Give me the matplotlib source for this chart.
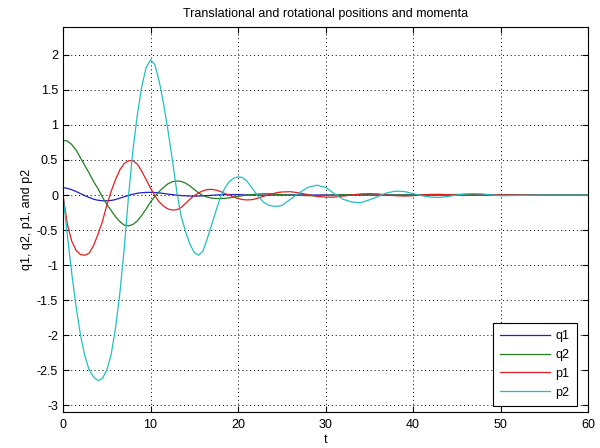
import matplotlib
matplotlib.use("Agg")

import matplotlib.pyplot as plt
import numpy as np

# time samples (0.5 steps to 25, then 1 steps, then tail)
t = [0.0, 0.5, 1.0, 1.5, 2.0, 2.5, 3.0, 3.5, 4.0, 4.5,
     5.0, 5.5, 6.0, 6.5, 7.0, 7.5, 8.0, 8.5, 9.0, 9.5,
     10.0, 10.5, 11.0, 11.5, 12.0, 12.5, 13.0, 13.5, 14.0, 14.5,
     15.0, 15.5, 16.0, 16.5, 17.0, 17.5, 18.0, 18.5, 19.0, 19.5,
     20.0, 20.5, 21.0, 21.5, 22.0, 22.5, 23.0, 23.5, 24.0, 24.5,
     25.0, 26, 27, 28, 29, 30, 31, 32, 33, 34,
     35, 36, 37, 38, 39, 40, 41, 42, 43, 44,
     45, 46, 47, 48, 49, 50, 55, 60]

q1 = [0.105, 0.095, 0.075, 0.05, 0.02, -0.01, -0.035, -0.06, -0.075, -0.082,
      -0.083, -0.078, -0.065, -0.045, -0.025, -0.005, 0.012, 0.025, 0.033, 0.037,
      0.038, 0.036, 0.03, 0.022, 0.013, 0.005, -0.002, -0.008, -0.012, -0.015,
      -0.016, -0.015, -0.012, -0.008, -0.004, 0.0, 0.003, 0.005, 0.006, 0.006,
      0.005, 0.003, 0.001, 0.0, -0.001, -0.002, -0.002, -0.002, -0.001, 0.0,
      0.0, 0.001, 0.001, 0.0, 0.0, 0.0, 0.0, 0.0, 0.0, 0.0,
      0.0, 0.0, 0.0, 0.0, 0.0, 0.0, 0.0, 0.0, 0.0, 0.0,
      0.0, 0.0, 0.0, 0.0, 0.0, 0.0, 0.0, 0.0]

q2 = [0.78, 0.77, 0.72, 0.64, 0.53, 0.42, 0.31, 0.19, 0.09, -0.03,
      -0.13, -0.22, -0.31, -0.38, -0.43, -0.44, -0.42, -0.37, -0.29, -0.2,
      -0.1, -0.02, 0.05, 0.11, 0.16, 0.19, 0.2, 0.195, 0.17, 0.13,
      0.08, 0.03, -0.01, -0.03, -0.045, -0.05, -0.05, -0.048, -0.04, -0.03,
      -0.02, -0.01, 0.0, 0.005, 0.01, 0.015, 0.018, 0.018, 0.015, 0.01,
      0.005, 0.0, -0.005, -0.01, -0.01, -0.005, 0.0, 0.003, 0.004, 0.003,
      0.0, -0.002, -0.002, 0.0, 0.0, 0.0, 0.0, 0.0, 0.0, 0.004,
      0.008, 0.008, 0.004, 0.0, 0.0, 0.0, 0.0, 0.0]

p1 = [0.0, -0.42, -0.66, -0.79, -0.85, -0.86, -0.83, -0.72, -0.56, -0.38,
      -0.15, 0.05, 0.22, 0.36, 0.45, 0.49, 0.49, 0.44, 0.34, 0.22,
      0.1, -0.01, -0.1, -0.16, -0.2, -0.215, -0.21, -0.18, -0.12, -0.06,
      -0.01, 0.03, 0.06, 0.078, 0.08, 0.07, 0.05, 0.02, 0.0, -0.03,
      -0.05, -0.065, -0.07, -0.068, -0.055, -0.035, -0.015, 0.005, 0.02, 0.035,
      0.043, 0.047, 0.03, 0.005, -0.02, -0.03, -0.03, -0.015, 0.0, 0.015,
      0.02, 0.015, 0.0, -0.01, -0.015, -0.01, 0.0, 0.008, 0.01, 0.005,
      0.0, -0.004, -0.004, 0.0, 0.0, 0.0, 0.0, 0.0]

p2 = [0.0, -0.58, -1.12, -1.6, -2.0, -2.3, -2.5, -2.6, -2.65, -2.62,
      -2.5, -2.28, -1.9, -1.4, -0.76, 0.0, 0.65, 1.15, 1.55, 1.82,
      1.93, 1.86, 1.62, 1.3, 0.92, 0.5, 0.05, -0.3, -0.52, -0.7,
      -0.82, -0.86, -0.8, -0.62, -0.42, -0.22, -0.03, 0.1, 0.19, 0.24,
      0.26, 0.25, 0.2, 0.12, 0.03, -0.05, -0.11, -0.145, -0.16, -0.16,
      -0.15, -0.06, 0.03, 0.11, 0.14, 0.11, 0.02, -0.06, -0.1, -0.11,
      -0.07, -0.02, 0.03, 0.055, 0.05, 0.02, -0.01, -0.03, -0.035, -0.02,
      0.0, 0.015, 0.02, 0.015, 0.0, -0.01, 0.0, 0.0]

labels = ["q1", "q2", "p1", "p2"]
colors = ["#1f1fd0", "#208020", "#e02020", "#20c0c0"]

plt.rcParams["font.family"] = ["Liberation Sans", "DejaVu Sans"]
fs = 9

fig = plt.figure(figsize=(6.0, 4.48), dpi=100)
ax = fig.add_axes([0.105, 0.08, 0.875, 0.86])

for ys, lab, col in zip([q1, q2, p1, p2], labels, colors):
    ax.plot(t, ys, color=col, lw=0.9, label=lab)

ax.set_xlim(0, 60)
ax.set_ylim(-3.1, 2.4)
ax.set_xticks(np.arange(0, 61, 10))
ax.set_yticks(np.arange(-3, 2.01, 0.5))
ax.set_yticklabels(["-3", "-2.5", "-2", "-1.5", "-1", "-0.5", "0", "0.5", "1", "1.5", "2"])
ax.tick_params(direction="in", length=4, width=0.8, labelsize=fs, top=True, right=True)
ax.tick_params(axis="x", pad=5)
ax.grid(True, linestyle=(0, (1, 3)), color="black", linewidth=0.7)
for s in ax.spines.values():
    s.set_linewidth(0.8)

ax.set_title("Translational and rotational positions and momenta", fontsize=fs, pad=7)
ax.set_xlabel("t", fontsize=fs, labelpad=2)
ax.set_ylabel("q1, q2, p1, and p2", fontsize=fs, labelpad=3)

leg = ax.legend(loc="lower right", bbox_to_anchor=(0.979, 0.0156), borderaxespad=0,
                fontsize=fs, frameon=True, fancybox=False, edgecolor="black",
                framealpha=1, handlelength=4, handletextpad=0.4, borderpad=0.6,
                labelspacing=0.55)
leg.get_frame().set_linewidth(0.8)

fig.savefig("out.png", dpi=100)
